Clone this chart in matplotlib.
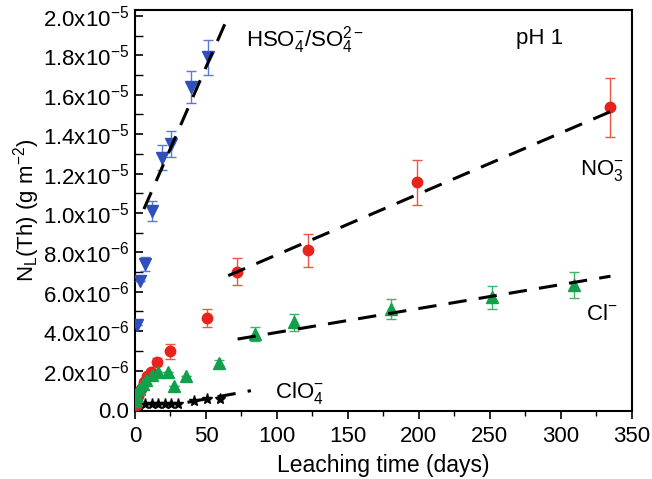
"""Th leaching at pH 1 for different anions."""

import math

import matplotlib

matplotlib.use("Agg")
import matplotlib.pyplot as plt
from matplotlib.ticker import FuncFormatter, MultipleLocator

plt.rcParams["font.family"] = ["Liberation Sans", "DejaVu Sans"]
plt.rcParams["mathtext.fontset"] = "custom"
plt.rcParams["mathtext.rm"] = "Liberation Sans"
plt.rcParams["mathtext.it"] = "Liberation Sans"

# HSO4-/SO4 2- (blue, down triangles)
hso4_days = [1.4, 3.7, 7.0, 12.0, 18.8, 25.4, 39.5, 51.4]
hso4_val = [4.3e-6, 6.56e-6, 7.4e-6, 1.01e-5, 1.28e-5, 1.35e-5, 1.64e-5, 1.79e-5]
hso4_err = [0, 0, 0.35e-6, 0.5e-6, 0.63e-6, 0.66e-6, 0.8e-6, 0.9e-6]

# NO3- (red circles)
no3_days = [0.7, 2.4, 4.2, 6.6, 8.5, 11.3, 15.5, 24.9, 50.7, 71.8, 121.6, 198.6, 334.7]
no3_val = [0.27e-6, 0.73e-6, 1.07e-6, 1.41e-6, 1.71e-6, 1.94e-6, 2.42e-6, 2.98e-6,
           4.67e-6, 7.02e-6, 8.1e-6, 1.156e-5, 1.536e-5]
no3_err = [0, 0, 0, 0, 0, 0, 0.2e-6, 0.38e-6, 0.48e-6, 0.68e-6, 0.85e-6, 1.14e-6, 1.5e-6]

# Cl- (green, up triangles)
cl_days = [0.0, 1.4, 3.1, 5.4, 7.8, 11.8, 16.0, 23.0, 27.7, 36.0, 59.4,
           84.5, 112.2, 180.7, 251.2, 309.0]
cl_val = [0.47e-6, 0.73e-6, 1.07e-6, 1.32e-6, 1.54e-6, 1.78e-6, 1.94e-6, 1.94e-6,
          1.23e-6, 1.71e-6, 2.39e-6, 3.86e-6, 4.45e-6, 5.13e-6, 5.72e-6, 6.35e-6]
cl_err = [0, 0, 0, 0, 0, 0, 0, 0, 0, 0, 0.15e-6, 0.36e-6, 0.44e-6, 0.5e-6, 0.57e-6, 0.64e-6]

# ClO4- (black stars)
clo4_days = [2.3, 7.0, 11.7, 16.4, 21.1, 25.4, 30.1, 41.3, 50.7, 60.1]
clo4_val = [0.3e-6, 0.3e-6, 0.3e-6, 0.3e-6, 0.3e-6, 0.3e-6, 0.3e-6, 0.47e-6, 0.56e-6, 0.56e-6]

# linear fits: (start day, end day, value at start, value at end)
fit_hso4 = (6.3, 64.0, 1.02e-5, 1.97e-5)
fit_no3 = (65.7, 340.0, 6.82e-6, 1.53e-5)
fit_cl = (72.3, 335.0, 3.6e-6, 6.79e-6)
fit_clo4 = (37.0, 81.7, 0.39e-6, 0.98e-6)

BLUE = "#2f4fbf"
BLUE_ERR = "#5a78d8"
RED = "#e8231d"
RED_ERR = "#f0553f"
GREEN = "#12a04a"
GREEN_ERR = "#3cb56a"
FS = 16


def sci_label(v, _pos):
    if abs(v) < 1e-12:
        return "0.0"
    e = int(math.floor(math.log10(abs(v)) + 1e-9))
    m = v / 10 ** e
    return f"{m:.1f}x10$^{{{e}}}$"


fig = plt.figure(figsize=(6.52, 4.79), dpi=100)
ax = fig.add_axes([0.207, 0.142, 0.762, 0.837])

ax.errorbar(hso4_days, hso4_val, yerr=hso4_err, fmt="v", color=BLUE, ecolor=BLUE_ERR,
            markersize=9, elinewidth=1.0, capsize=3.5, capthick=1.0, zorder=3)
ax.errorbar(no3_days, no3_val, yerr=no3_err, fmt="o", color=RED, ecolor=RED_ERR,
            markersize=7.5, elinewidth=1.0, capsize=3.5, capthick=1.0, zorder=3)
ax.errorbar(cl_days, cl_val, yerr=cl_err, fmt="^", color=GREEN, ecolor=GREEN_ERR,
            markersize=9, elinewidth=1.0, capsize=3.5, capthick=1.0, zorder=3)
ax.plot(clo4_days, clo4_val, "*", color="black", markersize=8, zorder=3)

for x0, x1, y0, y1 in (fit_hso4, fit_no3, fit_cl, fit_clo4):
    ax.plot([x0, x1], [y0, y1], color="black", linewidth=2.2, dashes=(6, 4), zorder=4)

ax.set_xlim(0, 350)
ax.set_ylim(-5e-8, 2.03e-5)
ax.xaxis.set_major_locator(MultipleLocator(50))
ax.xaxis.set_minor_locator(MultipleLocator(25))
ax.yaxis.set_major_locator(MultipleLocator(2e-6))
ax.yaxis.set_minor_locator(MultipleLocator(1e-6))
ax.yaxis.set_major_formatter(FuncFormatter(sci_label))
ax.tick_params(axis="x", which="major", direction="out", length=6, width=1.2, labelsize=FS, pad=5)
ax.tick_params(axis="x", which="minor", direction="out", length=3.5, width=1.0)
ax.tick_params(axis="y", which="major", direction="in", length=6, width=1.2, labelsize=FS, pad=4)
ax.tick_params(axis="y", which="minor", direction="in", length=6, width=1.0)
for spine in ax.spines.values():
    spine.set_linewidth(1.5)

ax.set_xlabel("Leaching time (days)", fontsize=FS + 0.5, labelpad=5)
ax.set_ylabel("N$_L$(Th) (g m$^{-2}$)", fontsize=FS, labelpad=1)

ax.text(0.342, 0.925, "HSO$_4^{-}$/SO$_4^{2-}$", transform=ax.transAxes, fontsize=FS,
        ha="center", va="center")
ax.text(0.815, 0.93, "pH 1", transform=ax.transAxes, fontsize=FS, ha="center", va="center")
ax.text(0.94, 0.6, "NO$_3^{-}$", transform=ax.transAxes, fontsize=FS, ha="center", va="center")
ax.text(0.94, 0.24, "Cl$^{-}$", transform=ax.transAxes, fontsize=FS, ha="center", va="center")
ax.text(0.33, 0.045, "ClO$_4^{-}$", transform=ax.transAxes, fontsize=FS, ha="center", va="center")

fig.savefig("out.png", dpi=100)
